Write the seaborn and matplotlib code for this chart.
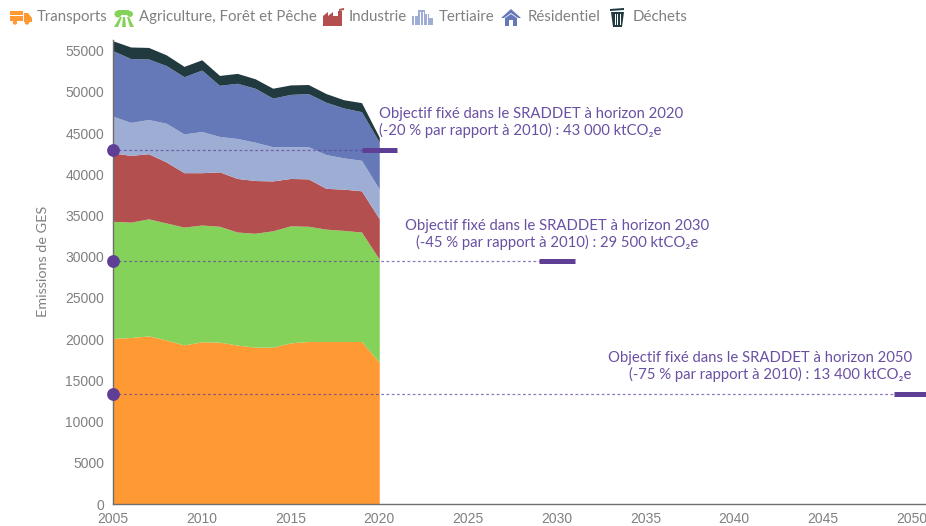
import matplotlib
matplotlib.use("Agg")
import matplotlib.pyplot as plt
from matplotlib.patches import Rectangle, Polygon, Circle
import numpy as np
import pandas as pd
import seaborn as sns

# ---------------------------
# Data
# ---------------------------
years = list(range(2005, 2021))

# top edge of each stacked band (ktCO2e)
transports = [20100, 20200, 20400, 19900, 19300, 19680, 19640, 19280, 19030, 19030, 19550, 19720, 19720, 19720, 19720, 17180]
agriculture = [34300, 34200, 34600, 34100, 33600, 33850, 33700, 33000, 32850, 33150, 33750, 33700, 33350, 33200, 33000, 29700]
industrie = [42600, 42300, 42500, 41500, 40200, 40200, 40300, 39500, 39250, 39200, 39500, 39450, 38300, 38200, 38000, 34600]
tertiaire = [47050, 46300, 46650, 46200, 44900, 45200, 44600, 44350, 43900, 43350, 43350, 43350, 42400, 42000, 41700, 38200]
residentiel = [55000, 54050, 54000, 53200, 51850, 52650, 50800, 51050, 50450, 49250, 49700, 49800, 48750, 48050, 47600, 43900]
dechets = [56200, 55450, 55400, 54500, 53100, 53900, 52000, 52250, 51600, 50450, 50850, 50900, 49800, 49050, 48700, 44500]

sector_names = ["Transports", "Agriculture, Forêt et Pêche", "Industrie", "Tertiaire", "Résidentiel", "Déchets"]
sector_colors = ["#ff9933", "#85d25b", "#b34f4f", "#9dadd4", "#6579b8", "#203a40"]

goal_years = [2020, 2030, 2050]
goal_values = [43000, 29500, 13400]
goal_texts = [
    "Objectif fixé dans le SRADDET à horizon 2020\n(-20 % par rapport à 2010) : 43 000 ktCO₂e",
    "Objectif fixé dans le SRADDET à horizon 2030\n(-45 % par rapport à 2010) : 29 500 ktCO₂e",
    "Objectif fixé dans le SRADDET à horizon 2050\n(-75 % par rapport à 2010) : 13 400 ktCO₂e",
]

PURPLE = "#5f3f96"
LABEL_PURPLE = "#6a50a3"
GREY = "#808080"
TEXT_FONT = ["Lato", "DejaVu Sans"]

sns.set_style("white")
plt.rcParams["font.family"] = ["Liberation Sans", "DejaVu Sans"]

fig = plt.figure(figsize=(9.26, 5.26), dpi=100)
ax = fig.add_axes([113 / 926, 1 - 504 / 526, (926 - 113) / 926, (504 - 40) / 526])

# ---------------------------
# Stacked areas
# ---------------------------
tops = [transports, agriculture, industrie, tertiaire, residentiel, dechets]
bottom = np.zeros(len(years))
for top, color in zip(tops, sector_colors):
    ax.fill_between(years, bottom, top, color=color, linewidth=0, zorder=2)
    bottom = np.array(top)

# ---------------------------
# SRADDET goals
# ---------------------------
for gy, gv in zip(goal_years, goal_values):
    dotted = pd.DataFrame({"x": [2005, gy], "y": [gv, gv]})
    sns.lineplot(data=dotted, x="x", y="y", ax=ax, color=PURPLE, linewidth=0.9, alpha=0.7,
                 linestyle=(0, (2.2, 2)), zorder=3, errorbar=None)
    thick = pd.DataFrame({"x": [gy - 1, gy + 1], "y": [gv, gv]})
    sns.lineplot(data=thick, x="x", y="y", ax=ax, color=PURPLE, linewidth=3.6, zorder=4,
                 solid_capstyle="butt", errorbar=None, clip_on=True)

starts = pd.DataFrame({"x": [2005] * 3, "y": goal_values})
sns.scatterplot(data=starts, x="x", y="y", ax=ax, color=PURPLE, s=85, linewidth=0, zorder=5, clip_on=False)

ax.text(2020, 43000 + 3330, goal_texts[0], color=LABEL_PURPLE, family=TEXT_FONT, fontsize=10.7, ha="left",
        va="center", linespacing=1.15, zorder=6, multialignment="left")
ax.text(2030, 29500 + 3220, goal_texts[1], color=LABEL_PURPLE, family=TEXT_FONT, fontsize=10.7, ha="center",
        va="center", linespacing=1.15, zorder=6, multialignment="center")
ax.text(2050, 13400 + 3260, goal_texts[2], color=LABEL_PURPLE, family=TEXT_FONT, fontsize=10.7, ha="right",
        va="center", linespacing=1.15, zorder=6, multialignment="right")

# ---------------------------
# Axes
# ---------------------------
ax.set_xlim(2005, 2050.8)
ax.set_ylim(0, 56300)
ax.set_xticks(range(2005, 2051, 5))
ax.set_xticks(range(2005, 2051), minor=True)
ax.set_yticks(range(0, 55001, 5000))
ax.tick_params(axis="both", which="major", length=4.5, width=1, color="#6e6e6e", labelcolor=GREY, labelsize=10, pad=2)
ax.tick_params(axis="x", which="minor", length=4.5, width=1, color="#6e6e6e")
ax.tick_params(axis="x", which="major", pad=1.5)
ax.set_xlabel("")
ax.set_ylabel("Emissions de GES", color=GREY, family=TEXT_FONT, fontsize=10.4, labelpad=0)
ax.yaxis.set_label_coords((49 - 113) / (926 - 113), (504 - 261) / 464)
sns.despine(ax=ax)
for side in ["left", "bottom"]:
    ax.spines[side].set_color("#6e6e6e")
    ax.spines[side].set_linewidth(1)

# ---------------------------
# Legend, with small drawn icons, in pixel coordinates
# ---------------------------
leg = fig.add_axes([0, 0, 1, 1], facecolor="none")
leg.set_xlim(0, 926)
leg.set_ylim(526, 0)
leg.axis("off")

def rect(x, y, w, h, c):
    leg.add_patch(Rectangle((x, y), w, h, color=c, linewidth=0))

def poly(pts, c):
    leg.add_patch(Polygon(pts, closed=True, color=c, linewidth=0))

def truck(c):
    rect(10, 11, 13, 4, c)
    rect(10, 16, 13, 5, c)
    poly([(24, 13), (28, 13), (32, 18), (32, 22), (24, 22)], c)
    leg.add_patch(Circle((15, 22.5), 2.2, color=c, linewidth=0))
    leg.add_patch(Circle((27, 22.5), 2.2, color=c, linewidth=0))

def tractor(c):
    rect(118, 10, 11, 5, c)
    leg.add_patch(Circle((118, 14), 3.5, color=c, linewidth=0))
    leg.add_patch(Circle((130, 14), 3, color=c, linewidth=0))
    poly([(120, 17), (122, 17), (118, 27), (114, 27)], c)
    poly([(123, 17), (125, 17), (126, 27), (122, 27)], c)
    poly([(127, 17), (129, 17), (134, 27), (130, 27)], c)

def factory(c):
    rect(323, 16, 15, 10, c)
    poly([(323, 16), (328, 12), (328, 16)], c)
    poly([(328, 16), (333, 12), (333, 16)], c)
    rect(338, 11, 4, 15, c)
    poly([(339, 9), (344, 8), (344, 10), (339, 11)], c)

def office(c):
    rect(412, 16, 6, 9, c)
    rect(418, 10, 7, 15, c)
    rect(425, 14, 4, 11, c)
    rect(429, 18, 4, 7, c)
    for x in [414, 420, 423, 427]:
        rect(x, 12, 0.7, 13, "white")

def house(c):
    poly([(501, 18), (511, 9), (521, 18), (518, 18), (511, 13), (504, 18)], c)
    poly([(505, 18), (511, 14), (517, 18), (517, 26), (513, 26), (513, 20), (509, 20), (509, 26), (505, 26)], c)

def trash(c):
    poly([(610, 9), (624, 8), (624, 10), (610, 11)], c)
    poly([(611, 12), (624, 12), (622, 27), (613, 27)], c)
    for x in [614.5, 617, 619.5]:
        rect(x, 14, 1, 11, "white")

icons = [truck, tractor, factory, office, house, trash]
legend_x = [37, 139, 349, 439, 528, 633]
for name, color, icon, x in zip(sector_names, sector_colors, icons, legend_x):
    icon(color)
    leg.text(x, 17, name, color=GREY, family=TEXT_FONT, fontsize=10.85, va="center", ha="left")

fig.savefig("out.png", dpi=100, facecolor="white")
